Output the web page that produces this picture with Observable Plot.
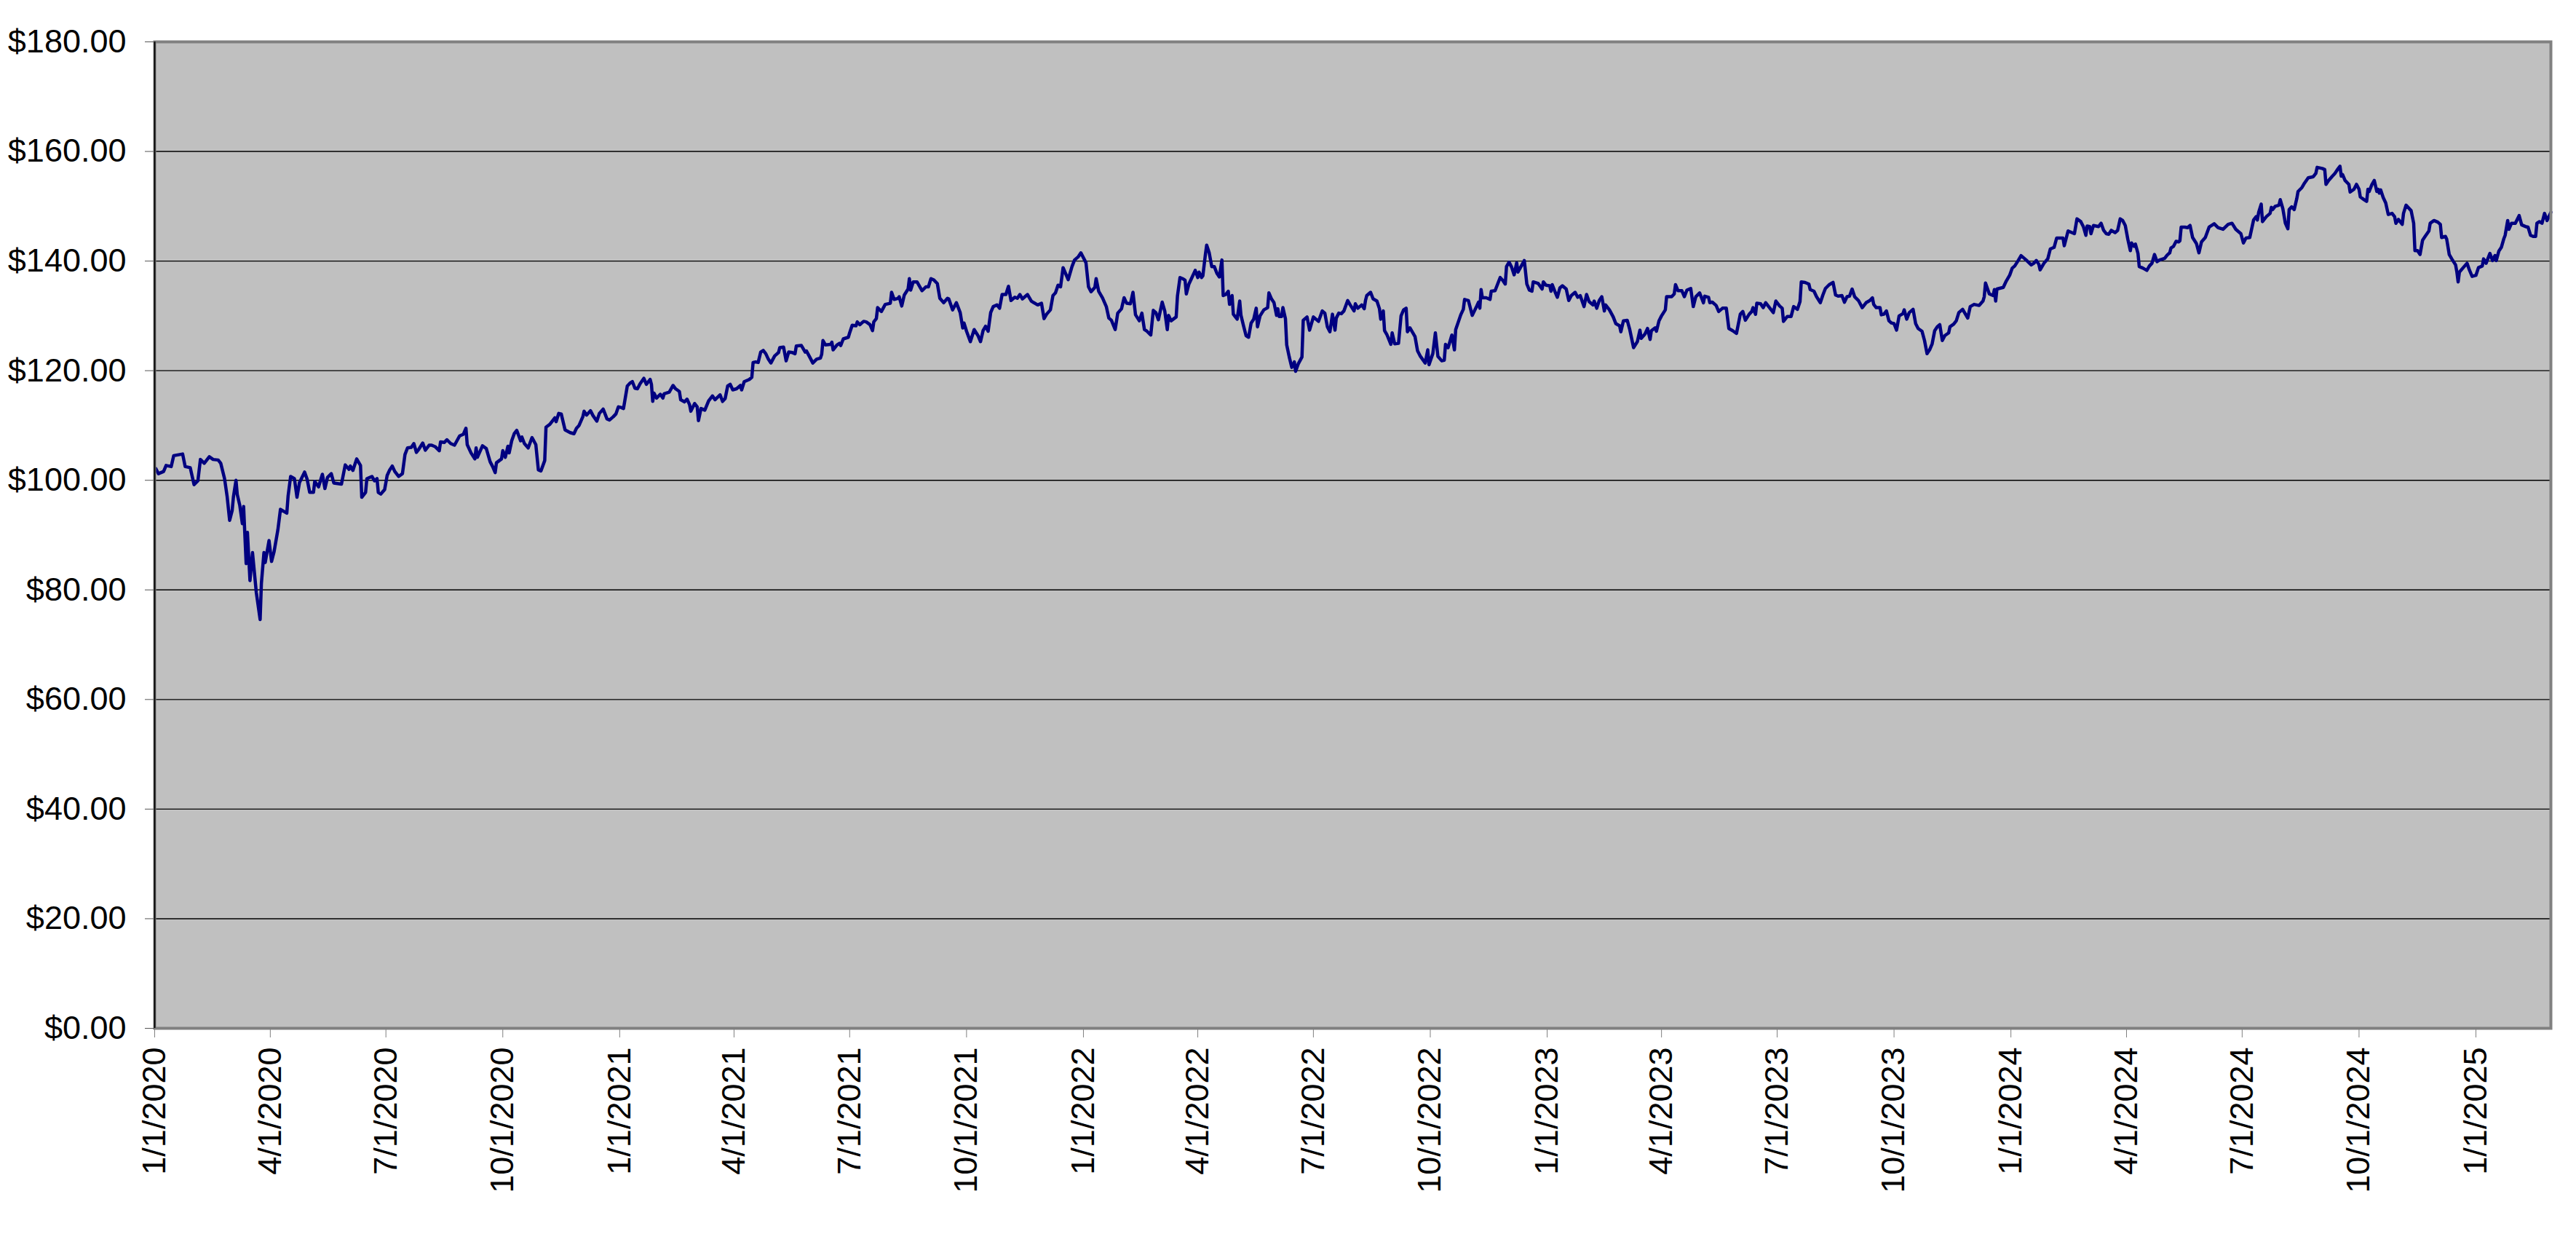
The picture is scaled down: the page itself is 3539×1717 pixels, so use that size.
<!DOCTYPE html>
<html><head><meta charset="utf-8">
<script src="https://cdn.jsdelivr.net/npm/d3@7"></script>
<script src="https://cdn.jsdelivr.net/npm/@observablehq/plot@0.6"></script>
<style>html,body{margin:0;padding:0;background:#fff;overflow:hidden}</style>
</head><body><div id="chart"></div>
<script>
// day offset from 1/1/2020, closing value
const startDate = "2020-01-01";
const endDate = "2025-03-01";
const xTickLabels = ["1/1/2020","4/1/2020","7/1/2020","10/1/2020","1/1/2021","4/1/2021","7/1/2021","10/1/2021","1/1/2022","4/1/2022","7/1/2022","10/1/2022","1/1/2023","4/1/2023","7/1/2023","10/1/2023","1/1/2024","4/1/2024","7/1/2024","10/1/2024","1/1/2025"];
const yTickValues = [0,20,40,60,80,100,120,140,160,180];

const year2020 = [[1,102.1],[3,101.2],[7,101.6],[9,102.7],[13,102.5],[15,104.5],[22,104.8],[24,102.5],[28,102.3],[31,99.2],[34,99.9],[36,103.8],[39,103.1],[43,104.3],[46,103.8],[50,103.7],[52,103.1],[55,100.3],[57,97.1],[59,92.7],[61,94.5],[62,97.0],[64,100],[65,97.4],[67,95.4],[69,92.1],[70,95.2],[72,84.8],[73,90.5],[75,81.7],[77,86.8],[80,79.5],[83,74.6],[84,81.2],[86,86.8],[87,85],[90,89],[92,85.2],[94,87],[97,91],[99,94.7],[104,94],[105,97.1],[107,100.7],[110,100.3],[112,96.9],[114,99.6],[118,101.5],[120,100.2],[122,97.8],[125,97.8],[126,99.8],[129,98.8],[132,101.1],[134,98.5],[136,100.5],[139,101.2],[141,99.5],[147,99.3],[150,102.8],[153,102.0],[154,102.6],[156,101.8],[159,103.9],[162,102.7],[163,96.9],[166,97.8],[167,100.3],[171,100.7],[173,99.9],[175,100.3],[176,97.8],[178,97.5],[181,98.3],[183,100.9],[185,101.9],[187,102.6],[189,101.6],[192,100.7],[195,101.2],[197,104.7],[199,105.9],[202,106],[204,106.7],[206,105.1],[208,105.7],[211,106.8],[213,105.5],[216,106.4],[218,106.4],[221,106.1],[224,105.4],[225,107],[228,106.9],[230,107.4],[233,106.7],[236,106.4],[240,108.1],[243,108.4],[245,109.5],[246,106.5],[249,105.0],[252,103.9],[253,105.9],[254,104.2],[258,106.3],[261,105.8],[264,103.4],[266,102.5],[268,101.4],[269,103.2],[273,103.9],[274,105.4],[276,104.2],[278,106.2],[279,105],[281,107.2],[283,108.5],[285,109.1],[288,107.2],[289,107.9],[291,106.7],[294,105.9],[297,107.8],[300,106.5],[302,101.9],[304,101.7],[307,103.6],[308,109.7],[311,110.2],[315,111.4],[316,110.7],[318,112.2],[320,112.1],[323,109.2],[327,108.7],[330,108.5],[332,109.5],[334,110],[337,111.6],[338,112.6],[340,111.9],[343,112.7],[345,111.8],[348,110.8],[350,112.2],[353,113],[356,111.2],[358,111],[361,111.6],[363,112.1],[365,113.4]];

const year2021 = [[367,113.3],[369,113.1],[372,117.2],[374,117.7],[376,118],[378,116.8],[380,116.7],[382,117.6],[385,118.6],[387,117.5],[390,118.4],[391,117.5],[392,114.4],[393,115.9],[395,115],[398,115.7],[400,115],[401,115.8],[405,116.1],[408,117.3],[410,116.7],[413,116.2],[414,114.7],[417,114.3],[419,114.8],[421,113.8],[422,112.6],[425,114],[427,113.4],[428,110.9],[430,113.1],[433,112.8],[436,114.5],[439,115.4],[441,114.7],[445,115.6],[447,114.4],[449,114.9],[451,117.2],[453,117.5],[455,116.5],[458,116.7],[461,117.3],[462,116.5],[464,118],[468,118.4],[470,118.8],[471,121.5],[473,121.6],[475,121.5],[477,123.4],[479,123.7],[481,123.1],[483,122.1],[485,121.4],[488,122.7],[491,123.3],[492,124.2],[495,124.3],[497,121.8],[499,123.4],[502,123.3],[504,123.1],[505,124.5],[509,124.6],[512,123.4],[513,123.6],[516,122.3],[518,121.4],[521,122.1],[524,122.3],[525,123],[526,125.5],[528,124.7],[532,124.8],[533,125.2],[534,123.8],[537,124.7],[539,125],[540,124.6],[542,125.8],[546,126.1],[547,126.9],[549,128.3],[552,128.2],[553,128.9],[555,128.4],[558,129],[560,128.9],[563,128.4],[565,127.3],[566,128.9],[568,129.5],[569,131.5],[572,130.8],[575,132.1],[579,132.3],[580,134.3],[582,133],[585,133.2],[586,133.5],[588,131.8],[590,133.8],[593,134.9],[594,136.8],[595,134.7],[597,136.2],[600,136.2],[604,134.6],[607,135.3],[609,135.3],[611,136.8],[613,136.6],[616,135.9],[618,133.2],[621,132.4],[624,133.2],[625,133.1],[628,131.1],[631,132.4],[634,130.6],[636,127.8],[637,128.7],[639,127.2],[642,125.3],[645,127.5],[648,126.4],[650,125.3],[652,127.3],[654,128.1],[656,127.2],[658,130.6],[660,131.7],[663,132],[665,131.4],[667,133.9],[670,133.9],[672,135.4],[674,132.8],[677,133.4],[679,133.2],[681,133.9],[683,133.1],[687,133.9],[690,132.7],[692,132.4],[695,132],[698,132.3],[700,129.5],[702,130.3],[705,131.1],[707,133.7],[709,134.2],[711,135.6],[713,135.3],[715,138.8],[717,137.7],[719,136.6],[722,139],[724,140.2],[727,140.8],[729,141.5]];

const year2022 = [[733,139.7],[735,135.3],[737,134.4],[740,135.2],[741,136.8],[743,134.5],[746,133.3],[749,131.7],[751,129.6],[753,129.2],[756,127.5],[758,130.5],[761,131.3],[763,133.3],[765,132.3],[768,132.2],[770,134.3],[772,130.2],[775,129.1],[777,130.5],[779,127.5],[781,127.2],[784,126.5],[786,131],[788,130.6],[790,129.3],[793,132.5],[795,130.9],[797,127.5],[798,130.1],[800,129.1],[804,129.8],[805,133.6],[807,137],[809,136.8],[811,136.5],[812,134],[814,135.8],[816,136.8],[819,138.3],[821,137],[822,138],[824,137],[825,137.3],[827,141.2],[828,142.9],[830,141.5],[832,139],[834,139],[836,137.8],[838,137.1],[840,140.2],[841,133.7],[843,133.9],[845,134.5],[846,132.1],[848,133.7],[849,130.3],[852,129.4],[854,132.7],[855,130.1],[857,128.2],[859,126.4],[861,126.1],[863,128.7],[865,129.4],[867,131.4],[868,128],[870,130],[873,131.1],[876,131.5],[877,134.2],[879,133.1],[881,132.4],[883,130.1],[884,131.3],[885,129.9],[887,129.9],[888,131.5],[890,129.5],[891,124.7],[893,122.5],[895,120.6],[897,121.6],[898,119.9],[900,121.2],[903,122.5],[904,129.2],[907,129.8],[909,127.4],[912,129.8],[916,129],[919,130.9],[921,130.5],[923,128],[925,127.1],[927,130.3],[929,127.4],[930,129.6],[932,130.5],[934,130.4],[936,130.9],[939,132.8],[941,132],[944,130.9],[945,132.2],[947,131.4],[950,132],[952,131.3],[953,132.8],[954,133.7],[957,134.3],[959,133.1],[962,132.7],[964,131.3],[965,129.4],[967,130.9],[968,127.3],[970,126.5],[973,124.8],[974,126.9],[976,124.9],[979,125],[981,130],[983,131.1],[985,131.4],[986,127.1],[988,127.8],[992,126.2],[994,123.6],[996,122.7],[1000,121.4],[1002,123.8],[1003,121.1],[1006,123.1],[1008,126.9],[1010,122.6],[1013,121.8],[1015,121.9],[1016,124.8],[1018,124.2],[1021,126.5],[1023,123.8],[1024,127.5],[1028,130.2],[1030,131.2],[1031,133],[1034,132.8],[1037,130.1],[1040,131.5],[1042,132.5],[1043,131.4],[1044,134.8],[1045,133.3],[1048,133.3],[1051,133],[1052,134.5],[1055,134.6],[1057,135.8],[1059,137],[1061,136.5],[1063,135.8],[1064,139],[1066,139.8],[1068,138.9],[1070,137.5],[1072,139.7],[1073,138],[1078,140.1],[1080,135.8],[1082,134.7],[1084,134.5],[1085,136.2],[1089,135.9],[1092,134.9],[1093,136.2],[1095,135.6]];

const year2023 = [[1098,135.5],[1099,134.5],[1100,135.7],[1102,134.5],[1104,133.4],[1106,135.1],[1108,135.5],[1111,134.9],[1113,132.8],[1115,133.7],[1118,134.3],[1120,133.4],[1122,133.7],[1125,131.7],[1127,133.9],[1129,132.6],[1132,132],[1133,132.7],[1135,131.4],[1137,132.8],[1139,133.5],[1141,130.9],[1142,132],[1145,131.1],[1148,129.8],[1150,128.6],[1153,128.2],[1154,127.1],[1156,129.1],[1159,129.2],[1161,127.5],[1164,124.2],[1167,125.3],[1169,127.4],[1170,125.9],[1173,126.7],[1175,127.7],[1177,125.7],[1178,127.3],[1181,127.8],[1182,127.2],[1184,129.1],[1186,130],[1189,131.1],[1190,133.5],[1194,133.5],[1196,134],[1197,135.7],[1199,134.6],[1202,134.6],[1204,133.5],[1206,134.7],[1209,135],[1211,131.7],[1213,133.5],[1216,134.2],[1219,132.4],[1220,133.6],[1223,133.4],[1224,132.4],[1226,132.5],[1229,131.9],[1231,130.8],[1234,131.4],[1237,131.4],[1239,127.7],[1242,127.3],[1245,126.8],[1248,130.3],[1250,130.8],[1252,129.2],[1255,130.3],[1257,130.8],[1258,131.5],[1260,130.3],[1261,132.3],[1264,132.2],[1266,131.5],[1268,132.4],[1271,131.5],[1274,130.6],[1276,132.7],[1279,131.8],[1281,131.4],[1282,129],[1285,129.9],[1288,129.9],[1290,131.7],[1293,131.2],[1295,132.6],[1296,136.2],[1299,136.1],[1302,135.8],[1303,134.8],[1306,134.5],[1308,133.5],[1311,132.4],[1313,133.8],[1315,135],[1318,135.7],[1321,136.1],[1323,133.8],[1325,133.6],[1328,133.7],[1330,132.5],[1332,133.5],[1334,133.6],[1336,134.9],[1338,133.5],[1341,132.8],[1344,131.5],[1347,132.4],[1350,132.8],[1352,133.3],[1353,132.1],[1355,131.5],[1358,131.5],[1359,130.2],[1361,130.3],[1363,130.9],[1365,129.1],[1367,128.7],[1369,128.6],[1371,127.4],[1373,130],[1376,130.4],[1377,131.1],[1379,129.4],[1381,130.6],[1384,131.2],[1386,128.6],[1388,127.7],[1391,127.2],[1393,125.5],[1395,123.1],[1397,123.8],[1399,124.9],[1401,127.3],[1403,128],[1405,128.4],[1407,125.5],[1409,126.4],[1412,126.9],[1413,128],[1416,128.5],[1418,129.1],[1420,130.6],[1423,131.2],[1427,129.6],[1429,131.7],[1432,132.1],[1436,131.9],[1439,132.7],[1440,133.5],[1441,136],[1444,134],[1447,133.7],[1448,134.8],[1449,132.7],[1450,134.9],[1455,135.2],[1457,136.2],[1460,137.4]];

const year2024 = [[1462,138.7],[1464,139.1],[1467,140.2],[1469,141],[1473,140.2],[1477,139.3],[1479,139.6],[1481,140.1],[1483,139.4],[1484,138.4],[1487,139.6],[1490,140.4],[1492,142.2],[1495,142.5],[1497,144.2],[1500,144.2],[1502,144.2],[1503,142.8],[1506,145.5],[1508,145.3],[1511,145],[1513,147.7],[1516,147.2],[1518,146.3],[1520,144.7],[1521,146.4],[1523,146.3],[1524,145],[1526,146.5],[1530,146.3],[1532,146.9],[1534,145.6],[1536,145],[1538,144.9],[1540,145.6],[1543,145.2],[1545,145.6],[1547,147.7],[1549,147.4],[1551,146.5],[1553,144],[1555,141.9],[1556,143.3],[1558,142.7],[1559,143.1],[1561,141.4],[1562,139],[1565,138.7],[1568,138.3],[1570,139.1],[1572,139.6],[1574,141.2],[1576,139.9],[1578,140.2],[1582,140.5],[1584,141.1],[1586,141.5],[1587,142.4],[1589,142.7],[1591,143.6],[1593,143.5],[1594,143.7],[1595,146.2],[1598,146.2],[1600,146.1],[1602,146.5],[1604,144.3],[1607,143.2],[1609,141.5],[1611,143.5],[1614,144.3],[1617,146.2],[1621,146.8],[1624,146.1],[1628,145.8],[1632,146.7],[1635,146.9],[1638,145.8],[1642,145],[1644,143.3],[1646,144.2],[1649,144.3],[1652,147.5],[1654,148.1],[1655,147.5],[1656,148.9],[1658,150.4],[1659,147.2],[1662,148.1],[1665,148.7],[1666,149.8],[1667,149.4],[1669,150],[1672,150.2],[1673,151.2],[1675,149.6],[1677,146.9],[1679,145.9],[1680,149.4],[1682,149.9],[1684,149.4],[1686,151.4],[1687,152.7],[1690,153.4],[1692,154.2],[1695,155.2],[1699,155.4],[1701,156],[1702,157.1],[1706,156.9],[1708,156.7],[1709,154],[1711,154.7],[1714,155.5],[1716,156],[1718,156.7],[1720,157.3],[1721,155.5],[1722,155.8],[1724,154.7],[1727,154],[1728,152.6],[1731,153.1],[1733,154],[1735,153.1],[1736,151.7],[1739,151.2],[1741,150.9],[1742,153.1],[1743,152.7],[1745,153.9],[1747,154.7],[1749,152.7],[1750,153.1],[1751,152.4],[1752,153],[1754,151.6],[1756,150.6],[1758,148.5],[1761,148.7],[1763,148.1],[1764,146.9],[1766,147.6],[1769,146.7],[1770,148.7],[1772,150.2],[1776,149.2],[1778,146.9],[1779,141.9],[1781,141.9],[1783,141.2],[1785,143.8],[1787,144.5],[1790,145.5],[1791,146.9],[1794,147.4],[1797,147.1],[1799,146.7],[1800,144.3],[1803,144.5],[1804,144],[1806,141.2],[1808,140.4],[1811,139.3],[1812,138],[1813,136.2],[1814,138],[1817,138.8],[1820,139.6],[1822,138.3],[1824,137.2]];

const year2025 = [[1827,137.4],[1829,138.8],[1832,139.1],[1833,140.4],[1835,139.6],[1838,141.4],[1840,140.1],[1842,141],[1843,140.1],[1845,141.8],[1847,142.5],[1849,144.1],[1850,144.7],[1852,147.4],[1853,145.8],[1855,146.9],[1858,146.9],[1861,148.3],[1863,146.6],[1866,146.3],[1868,146.2],[1870,144.7],[1872,144.5],[1874,144.5],[1875,146.9],[1877,147.2],[1879,146.9],[1881,148.7],[1883,147.4],[1886,148.9]];

const t0 = new Date(startDate + "T00:00:00Z");
const t1 = new Date(endDate + "T00:00:00Z");
const parseMDY = s => { const [m, d, y] = s.split("/").map(Number); return new Date(Date.UTC(y, m - 1, d)); };
const fmtMDY = d => `${d.getUTCMonth() + 1}/${d.getUTCDate()}/${d.getUTCFullYear()}`;
const xTicks = xTickLabels.map(parseMDY);
const data = [...year2020, ...year2021, ...year2022, ...year2023, ...year2024, ...year2025]
  .map(([d, v]) => ({date: d3.utcDay.offset(t0, d), price: v}));

const chart = Plot.plot({
  width: 3539,
  height: 1717,
  marginTop: 57,
  marginBottom: 305,
  marginLeft: 212,
  marginRight: 35,
  style: {fontFamily: "'Liberation Sans', Arial, sans-serif", fontSize: "45px", background: "#ffffff", color: "#000000", overflow: "visible"},
  x: {type: "utc", domain: [t0, t1]},
  y: {domain: [0, 180]},
  marks: [
    Plot.frame({fill: "#C0C0C0"}),
    Plot.gridY(yTickValues, {stroke: "#000000", strokeOpacity: 1, strokeWidth: 1.4}),
    Plot.line(data, {x: "date", y: "price", stroke: "#000080", strokeWidth: 4.5, strokeLinejoin: "round"}),
    Plot.frame({stroke: "#808080", strokeWidth: 4}),
    Plot.ruleX([t0], {stroke: "#000000", strokeWidth: 2}),
    Plot.axisY(yTickValues, {tickSize: 13, tickPadding: 26, tickFormat: d => "$" + d.toFixed(2), stroke: "#555555", fill: "#000000", fontSize: 45, label: null}),
    Plot.axisX(xTicks, {tickSize: 13, tickPadding: 13, tickRotate: -90, tickFormat: fmtMDY, stroke: "#808080", fill: "#000000", fontSize: 45, label: null})
  ]
});
document.getElementById("chart").appendChild(chart);
</script>
</body></html>
